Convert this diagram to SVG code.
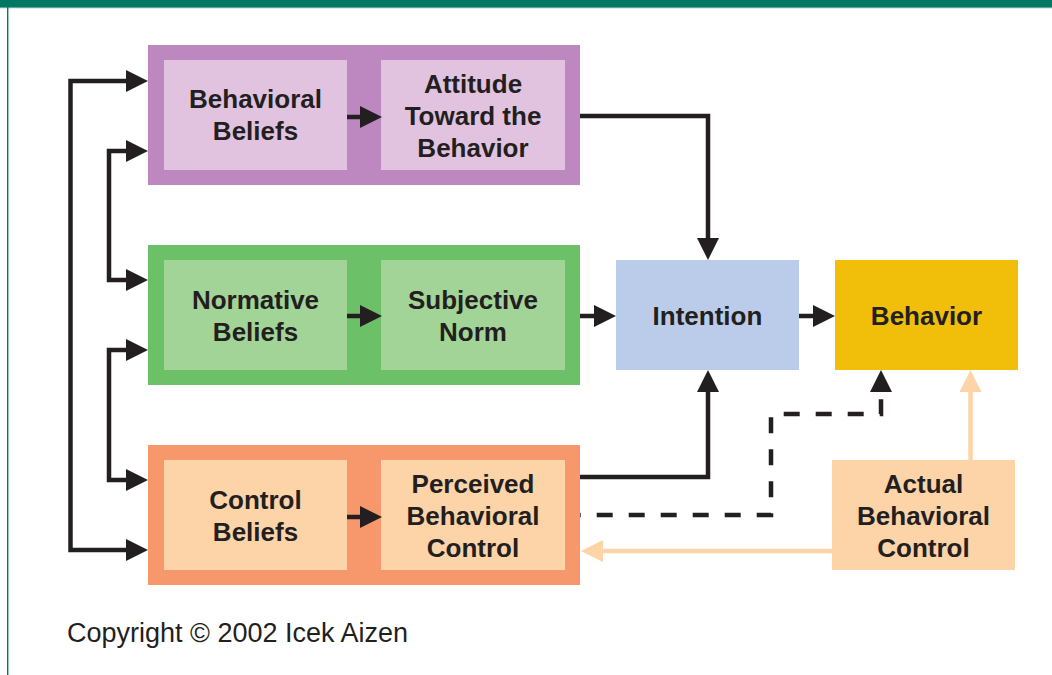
<svg xmlns="http://www.w3.org/2000/svg" width="1052" height="675" viewBox="0 0 1052 675">
<style>
.lbl{font-family:"Liberation Sans",Arial,Helvetica,sans-serif;font-weight:bold;font-size:26px;fill:#231F20;text-anchor:middle}
.copy{font-family:"Liberation Sans",Arial,Helvetica,sans-serif;font-size:27px;fill:#231F20}
.ln{fill:none;stroke:#231F20;stroke-width:4.5}
.pl{fill:none;stroke:#FDD3A8;stroke-width:4.5}
</style>
<defs>
<marker id="ah" markerUnits="userSpaceOnUse" markerWidth="22" markerHeight="22" refX="0" refY="11" orient="auto-start-reverse" overflow="visible">
<path d="M0,0 L22,11 L0,22 Z" fill="#231F20"/>
</marker>
<marker id="ap" markerUnits="userSpaceOnUse" markerWidth="22" markerHeight="22" refX="0" refY="11" orient="auto-start-reverse" overflow="visible">
<path d="M0,0 L22,11 L0,22 Z" fill="#FDD3A8"/>
</marker>
</defs>
<rect x="0" y="0" width="1052" height="675" fill="#FFFFFF"/>
<rect x="0" y="0" width="1052" height="7" fill="#007864"/>
<rect x="0" y="7" width="1052" height="1.2" fill="#5FA898"/>
<rect x="7" y="7" width="1.4" height="668" fill="#007864"/>

<g id="group-attitude">
<rect x="148" y="45" width="432" height="140" fill="#BC88BF"/>
</g>
<g id="group-norm">
<rect x="148" y="245" width="432" height="140" fill="#6CC068"/>
</g>
<g id="group-control">
<rect x="148" y="445" width="432" height="140" fill="#F6986B"/>
</g>

<g id="behavioral-beliefs">
<rect x="164" y="60" width="183" height="110" fill="#E1C3DF"/>
<text class="lbl" x="255.5" y="108">Behavioral</text>
<text class="lbl" x="255.5" y="140">Beliefs</text>
</g>
<g id="attitude">
<rect x="381" y="60" width="184" height="110" fill="#E1C3DF"/>
<text class="lbl" x="473" y="92.5">Attitude</text>
<text class="lbl" x="473" y="124.5">Toward the</text>
<text class="lbl" x="473" y="156.5">Behavior</text>
</g>
<g id="normative-beliefs">
<rect x="164" y="260" width="183" height="110" fill="#A3D497"/>
<text class="lbl" x="255.5" y="308.5">Normative</text>
<text class="lbl" x="255.5" y="340.5">Beliefs</text>
</g>
<g id="subjective-norm">
<rect x="381" y="260" width="184" height="110" fill="#A3D497"/>
<text class="lbl" x="473" y="308.5">Subjective</text>
<text class="lbl" x="473" y="340.5">Norm</text>
</g>
<g id="control-beliefs">
<rect x="164" y="460" width="183" height="110" fill="#FDD3A8"/>
<text class="lbl" x="255.5" y="508.5">Control</text>
<text class="lbl" x="255.5" y="540.5">Beliefs</text>
</g>
<g id="pbc">
<rect x="381" y="460" width="184" height="110" fill="#FDD3A8"/>
<text class="lbl" x="473" y="492.5">Perceived</text>
<text class="lbl" x="473" y="524.5">Behavioral</text>
<text class="lbl" x="473" y="556.5">Control</text>
</g>
<g id="intention">
<rect x="616" y="260" width="183" height="110" fill="#BACCE9"/>
<text class="lbl" x="707.5" y="325">Intention</text>
</g>
<g id="behavior">
<rect x="835" y="260" width="183" height="110" fill="#F1BE0A"/>
<text class="lbl" x="926.5" y="325">Behavior</text>
</g>
<g id="abc">
<rect x="832" y="460" width="183" height="110" fill="#FDD3A8"/>
<text class="lbl" x="923.5" y="492.5">Actual</text>
<text class="lbl" x="923.5" y="524.5">Behavioral</text>
<text class="lbl" x="923.5" y="556.5">Control</text>
</g>

<g id="connectors">
<path class="ln" d="M126,81 H70.5 V550 H126" marker-start="url(#ah)" marker-end="url(#ah)"/>
<path class="ln" d="M126,151 H109 V280 H126" marker-start="url(#ah)" marker-end="url(#ah)"/>
<path class="ln" d="M126,350 H109 V480 H126" marker-start="url(#ah)" marker-end="url(#ah)"/>
<path class="ln" d="M347,117 H360" marker-end="url(#ah)"/>
<path class="ln" d="M347,316 H360" marker-end="url(#ah)"/>
<path class="ln" d="M347,517 H360" marker-end="url(#ah)"/>
<path class="ln" d="M580,116 H708 V238" marker-end="url(#ah)"/>
<path class="ln" d="M580,316 H594" marker-end="url(#ah)"/>
<path class="ln" d="M799,316 H813" marker-end="url(#ah)"/>
<path class="ln" d="M580,477 H708 V392" marker-end="url(#ah)"/>
<path class="ln" d="M580,515 H771 V414 H881 V399" stroke-dasharray="16 16" stroke-dashoffset="15.3"/>
<path d="M870,392 L881,370 L892,392 Z" fill="#231F20"/>
<path class="pl" d="M970.5,460 V392" marker-end="url(#ap)"/>
<path class="pl" d="M832,551 H603" marker-end="url(#ap)"/>
</g>

<text class="copy" x="67" y="641.5">Copyright © 2002 Icek Aizen</text>
</svg>
